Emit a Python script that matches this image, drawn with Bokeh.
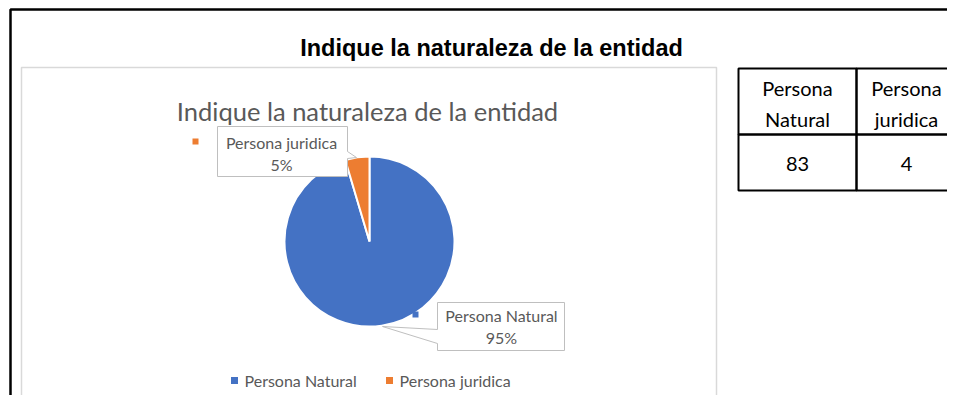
import math
from bokeh.plotting import figure
from bokeh.models import Range1d, ColumnDataSource
from bokeh.core.properties import value
from bokeh.embed import file_html
from bokeh.resources import INLINE

# ---- data ----
page_title = "Indique la naturaleza de la entidad"
chart_title = "Indique la naturaleza de la entidad"
categories = ["Persona Natural", "Persona juridica"]
header_lines = [["Persona", "Natural"], ["Persona", "juridica"]]
counts = [83, 4]
colors = ["#4472C4", "#ED7D31"]

# ---- layout (pixels, y downwards) ----
W, H = 947, 395


def Y(sy):
    return H - sy


p = figure(width=W, height=H, x_range=Range1d(0, W), y_range=Range1d(0, H),
           output_backend="svg", toolbar_location=None, min_border=0,
           x_axis_location=None, y_axis_location=None)
p.grid.visible = False
p.outline_line_color = None
p.background_fill_color = "white"
p.border_fill_color = "white"

# outer black frame (extends beyond the visible area)
p.quad(left=[10], right=[1100], top=[Y(9)], bottom=[Y(600)], fill_color=None,
       line_color="black", line_width=2.5)

# chart area box
p.quad(left=[21], right=[716], top=[Y(67)], bottom=[Y(409)], fill_color="white",
       line_color="#D9D9D9", line_width=1.5)

# page title
p.text(x=[491], y=[Y(47)], text=[page_title], text_font=value("Liberation Sans"),
       text_font_style="bold", text_font_size="23.5px", text_align="center",
       text_baseline="alphabetic", text_color="black")

# chart title
p.text(x=[367], y=[Y(110.5)], text=[chart_title], text_font=value("Lato"),
       text_font_size="25.5px", text_align="center", text_baseline="alphabetic",
       text_color="#595959")

# ---- pie ----
total = sum(counts)
cx, cy, r = 369, Y(241), 85
starts, ends = [], []
cum = 0.0
for c in counts:
    starts.append(math.pi / 2 - 2 * math.pi * cum / total)
    cum += c
    ends.append(math.pi / 2 - 2 * math.pi * cum / total)
src = ColumnDataSource(dict(x=[cx] * len(counts), y=[cy] * len(counts), start=starts,
                            end=ends, color=colors))
p.wedge(x="x", y="y", radius=r, start_angle="start", end_angle="end", direction="clock",
        fill_color="color", line_color="white", line_width=2, source=src)

# ---- callout labels ----
pct = [f"{round(100 * c / total)}%" for c in counts]
callouts = [
    # Persona Natural
    dict(xs=[437, 564, 564, 437, 437, 382, 437],
         ys=[302, 302, 350, 350, 343, 326, 329],
         key=(415, 314), tx=501, ty1=315, ty2=337),
    # Persona juridica
    dict(xs=[217, 347, 347, 356, 347, 347, 217],
         ys=[126, 126, 151, 157, 158, 176, 176],
         key=(195, 141), tx=281, ty1=142, ty2=164),
]
for i, co in enumerate(callouts):
    p.patch(x=co["xs"], y=[Y(v) for v in co["ys"]], fill_color="white",
            line_color="#BFBFBF", line_width=1)
    p.scatter(x=[co["key"][0]], y=[Y(co["key"][1])], marker="square", size=6,
              fill_color=colors[i], line_color=None)
    p.text(x=[co["tx"], co["tx"]], y=[Y(co["ty1"]), Y(co["ty2"])],
           text=[categories[i], pct[i]], text_font=value("Lato"), text_font_size="16px",
           text_align="center", text_baseline="middle", text_color="#595959")

# ---- legend ----
leg_y = Y(380)
leg_keys = [234, 389]
for i, kx in enumerate(leg_keys):
    p.scatter(x=[kx], y=[leg_y], marker="square", size=7, fill_color=colors[i],
              line_color=None)
    p.text(x=[kx + 10], y=[leg_y], text=[categories[i]], text_font=value("Lato"),
           text_font_size="16px", text_align="left", text_baseline="middle",
           text_color="#595959")

# ---- table ----
col_edges = [738, 856, 956]
row_edges = [68, 134, 190]
for ci in range(len(counts)):
    for ri in range(2):
        p.quad(left=[col_edges[ci]], right=[col_edges[ci + 1]], top=[Y(row_edges[ri])],
               bottom=[Y(row_edges[ri + 1])], fill_color=None, line_color="black",
               line_width=2)
    mid = (col_edges[ci] + col_edges[ci + 1]) / 2
    p.text(x=[mid, mid], y=[Y(87), Y(118)], text=header_lines[ci], text_font=value("Lato"),
           text_font_size="20px", text_align="center", text_baseline="middle",
           text_color="black")
    p.text(x=[mid], y=[Y(163)], text=[str(counts[ci])], text_font=value("Lato"),
           text_font_size="20px", text_align="center", text_baseline="middle",
           text_color="black")

open("out.html", "w").write(file_html(p, INLINE))
